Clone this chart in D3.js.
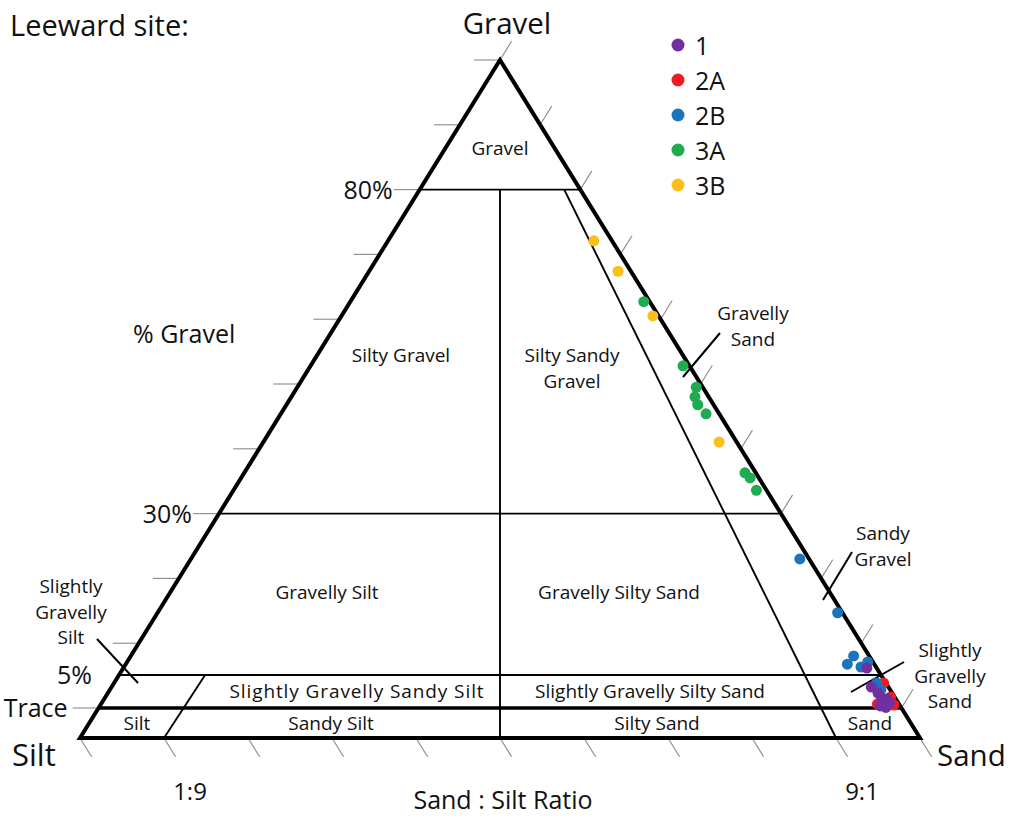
<!DOCTYPE html>
<html><head><meta charset="utf-8">
<script src="https://cdn.jsdelivr.net/npm/d3@7"></script>
<style>
html,body{margin:0;padding:0;background:#fff;}
text{font-family:"Open Sans",sans-serif;fill:#111;}
</style></head>
<body>
<svg id="chart" width="1010" height="817"></svg>
<script>
// ---------- DATA ----------
const TRACE = 0.01;
const seriesNames = ["1", "2A", "2B", "3A", "3B"];
const seriesColors = ["#7030a0", "#ed1c24", "#1b75bc", "#1fab4f", "#fdbd1b"];
// each point: [gravel %, sand fraction of sand+silt]
const s1 = [[6.1,0.987],[3.19,0.978],[2.28,0.982],[1.53,0.983],[1.37,0.989],[0.61,0.980],[0.77,0.989],[0.1,0.981],[0.32,0.975]];
const s2A = [[0.61,0.973],[0.47,0.993],[3.79,0.997],[1.68,0.995]];
const s2B = [[23.0,0.985],[14.7,0.993],[8.0,0.979],[6.7,0.964],[6.26,0.980],[7.05,0.993],[3.79,0.988],[2.74,0.988]];
const s3A = [[62.7,0.980],[52.8,0.983],[49.5,0.984],[48.0,0.967],[46.8,0.963],[45.4,0.970],[36.3,0.979],[35.5,0.983],[33.6,0.981]];
const s3B = [[72.1,0.919],[67.4,0.951],[60.5,0.982],[41.05,0.963]];
const gravelTicks = [100,90,80,70,60,50,40,30,20,10,TRACE];
const ratioTicks = [0,0.1,0.2,0.3,0.4,0.5,0.6,0.7,0.8,0.9,1];
const gravelLabels = [[80,"80%"],[30,"30%"],[5,"5%"],[TRACE,"Trace"]];
const ratioLabels = [[0.1,"1:9"],[0.9,"9:1"]];
// class boundaries: [gravel0, sand0, gravel1, sand1]
const boundaryLines = [
  [80,0,80,1],[30,0,30,1],[5,0,5,1],
  [80,0.5,0,0.5],[80,0.9,0,0.9],[0,0.1,5,0.113]
];
const traceLine = [TRACE,0,TRACE,1];
const regionNames = [
  ["Gravel"], ["Silty Gravel"], ["Silty Sandy","Gravel"], ["Gravelly Silt"], ["Gravelly Silty Sand"],
  ["Slightly Gravelly Sandy Silt"], ["Slightly Gravelly Silty Sand"], ["Silt"], ["Sandy Silt"], ["Silty Sand"], ["Sand"]
];

// ---------- LAYOUT (label placement) ----------
const regionPlace = [[500,155],[401,362],[572,362],[327,599],[619,599],[357,698],[650,698],[137,730],[331,730],[657,730],[870,730]];

// ---------- SCALES ----------
const W = 1010, H = 817;
const tScale = d3.scaleLinear().domain([0, TRACE, 5, 10, 100]).range([0, 0.0442, 0.0929, 0.1398, 1]);
const yScale = d3.scaleLinear().domain([0,1]).range([738, 60]);
const xScale = d3.scaleLinear().domain([0,1]).range([80, 920]);
function pos(g, s){
  const t = tScale(g);
  return [xScale(t*0.5 + (1-t)*s), yScale(t)];
}

const svg = d3.select("#chart");
svg.append("rect").attr("width",W).attr("height",H).attr("fill","#fff");

// ---------- TICKS ----------
const gray = "#8a8a8a";
const ang = Math.atan2(678, 420);
const ux = Math.cos(ang), uy = Math.sin(ang);
const tickG = svg.append("g").attr("stroke",gray).attr("stroke-width",1.1);
gravelTicks.forEach(g=>{
  const [x0,y0] = pos(g,0);
  tickG.append("line").attr("x1",x0).attr("y1",y0).attr("x2",x0-26).attr("y2",y0);
  const [x1,y1] = pos(g,1);
  tickG.append("line").attr("x1",x1).attr("y1",y1).attr("x2",x1+22*ux).attr("y2",y1-22*uy);
});
ratioTicks.forEach(s=>{
  const [x,y] = pos(0,s);
  tickG.append("line").attr("x1",x).attr("y1",y).attr("x2",x+22*ux).attr("y2",y+22*uy);
});

// ---------- BOUNDARIES ----------
const lineG = svg.append("g").attr("stroke","#000").attr("fill","none");
boundaryLines.forEach(b=>{
  const p0 = pos(b[0],b[1]), p1 = pos(b[2],b[3]);
  lineG.append("line").attr("x1",p0[0]).attr("y1",p0[1]).attr("x2",p1[0]).attr("y2",p1[1]).attr("stroke-width",1.9);
});
{
  const p0 = pos(traceLine[0],traceLine[1]), p1 = pos(traceLine[2],traceLine[3]);
  lineG.append("line").attr("x1",p0[0]).attr("y1",p0[1]).attr("x2",p1[0]).attr("y2",p1[1]).attr("stroke-width",3.6);
}
const tri = [pos(100,0.5), pos(0,0), pos(0,1)];
lineG.append("path").attr("d", d3.line()(tri)+"Z").attr("stroke-width",4).attr("stroke-linejoin","miter");

// ---------- REGION LABELS ----------
const rl = svg.append("g").attr("text-anchor","middle").attr("font-size",19);
regionNames.forEach((r,k)=>{
  const [x,y] = regionPlace[k];
  r.forEach((ln,i)=>{
    const t = rl.append("text").attr("x",x).attr("y",y + i*26).text(ln);
    if (k===5) t.attr("letter-spacing",0.9);
  });
});

// ---------- ANNOTATIONS ----------
const annotations = [
  {lines:["Gravelly","Sand"], tx:753, ty:320, leader:[720,333,683,377]},
  {lines:["Sandy","Gravel"], tx:883, ty:540, leader:[852,552,823,600]},
  {lines:["Slightly","Gravelly","Sand"], tx:950, ty:657, leader:[904,662,851,692]},
  {lines:["Slightly","Gravelly","Silt"], tx:71, ty:593, leader:[97,639,138,683]}
];
const an = svg.append("g");
annotations.forEach(a=>{
  a.lines.forEach((ln,i)=>{
    an.append("text").attr("x",a.tx).attr("y",a.ty+i*25.5).attr("text-anchor","middle").attr("font-size",19).text(ln);
  });
  const L=a.leader;
  an.append("line").attr("x1",L[0]).attr("y1",L[1]).attr("x2",L[2]).attr("y2",L[3]).attr("stroke","#000").attr("stroke-width",2);
});

// ---------- POINTS ----------
const allSeries = [s2A, s2B, s1, s3A, s3B];
const allColors = [seriesColors[1], seriesColors[2], seriesColors[0], seriesColors[3], seriesColors[4]];
allSeries.forEach((ser,k)=>{
  svg.append("g").selectAll("circle").data(ser).join("circle")
    .attr("cx",d=>pos(d[0],d[1])[0]).attr("cy",d=>pos(d[0],d[1])[1])
    .attr("r",5.5).attr("fill",allColors[k]);
});

// ---------- AXIS LABELS ----------
gravelLabels.forEach(([g,lab])=>{
  const [x,y] = pos(g,0);
  svg.append("text").attr("x",x - (g===TRACE?31:27)).attr("y",y+9).attr("text-anchor","end").attr("font-size",25).text(lab);
});
ratioLabels.forEach(([s,lab])=>{
  const [x,y] = pos(0,s);
  svg.append("text").attr("x",x+26).attr("y",y+62).attr("text-anchor","middle").attr("font-size",24).text(lab);
});
svg.append("text").attr("x",503).attr("y",809).attr("text-anchor","middle").attr("font-size",25).text("Sand : Silt Ratio");
svg.append("text").attr("x",133).attr("y",343).attr("font-size",25).text("% Gravel");
{
  const [xa,ya] = pos(100,0.5);
  svg.append("text").attr("x",xa+7).attr("y",ya-26).attr("text-anchor","middle").attr("font-size",29.5).text("Gravel");
  const [xl,yl] = pos(0,0);
  svg.append("text").attr("x",xl-68).attr("y",yl+28).attr("font-size",31).text("Silt");
  const [xr,yr] = pos(0,1);
  svg.append("text").attr("x",xr+17).attr("y",yr+28).attr("font-size",29.5).text("Sand");
}
svg.append("text").attr("x",10).attr("y",36).attr("font-size",29).text("Leeward site:");

// ---------- LEGEND ----------
const leg = svg.append("g").attr("transform","translate(678,45)");
seriesNames.forEach((n,i)=>{
  leg.append("circle").attr("cx",0).attr("cy",i*35).attr("r",6.5).attr("fill",seriesColors[i]);
  leg.append("text").attr("x",17).attr("y",i*35+10).attr("font-size",25).text(n);
});
</script>
</body></html>
